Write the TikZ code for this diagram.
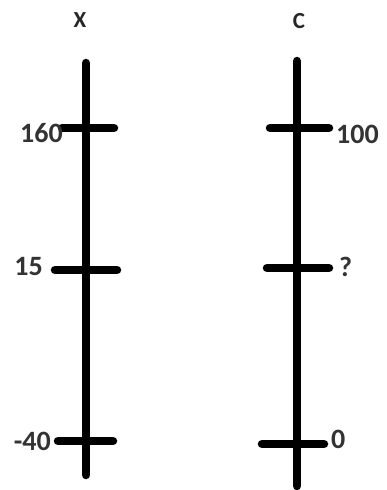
\documentclass[tikz,border=0pt]{standalone}
\usepackage{fontspec}
\setmainfont{Carlito}
\begin{document}
\begin{tikzpicture}[x=1pt,y=-1pt,
  bar/.style={line width=8.5pt,line cap=round},
  lbl/.style={font=\bfseries\fontsize{28}{32}\selectfont,inner sep=0pt,text=black!80},
  head/.style={font=\bfseries\fontsize{23}{26}\selectfont,inner sep=0pt,text=black!85}]
\useasboundingbox (0,0) rectangle (387,490);
% left scale
\coordinate (xt) at (86,63);
\coordinate (xb) at (86,475);
\draw[bar] (xt) -- (xb);
\coordinate (x1a) at (62,128); \coordinate (x1b) at (114,128);
\coordinate (x2a) at (55,270); \coordinate (x2b) at (117,270);
\coordinate (x3a) at (58,441); \coordinate (x3b) at (113,441);
\draw[bar] (x1a) -- (x1b);
\draw[bar] (x2a) -- (x2b);
\draw[bar] (x3a) -- (x3b);
% right scale
\coordinate (ct) at (297,61);
\coordinate (cb) at (297,486);
\draw[bar] (ct) -- (cb);
\coordinate (c1a) at (270,128); \coordinate (c1b) at (329,128);
\coordinate (c2a) at (267,268); \coordinate (c2b) at (329,268);
\coordinate (c3a) at (262,444); \coordinate (c3b) at (324,444);
\draw[bar] (c1a) -- (c1b);
\draw[bar] (c2a) -- (c2b);
\draw[bar] (c3a) -- (c3b);
% labels
\node[head] (lx) at (80,20) {X};
\node[head] (lc) at (299,21) {C};
\node[lbl,anchor=east] (l160) at (63,133) {160};
\node[lbl,anchor=east] (l15) at (43,266) {15};
\node[lbl,anchor=east] (l40) at (51,441) {-40};
\node[lbl,anchor=west] (l100) at (336,134) {100};
\node[lbl,anchor=west] (lq) at (339,267) {?};
\node[lbl,anchor=west] (l0) at (331,439) {0};
\end{tikzpicture}
\end{document}
